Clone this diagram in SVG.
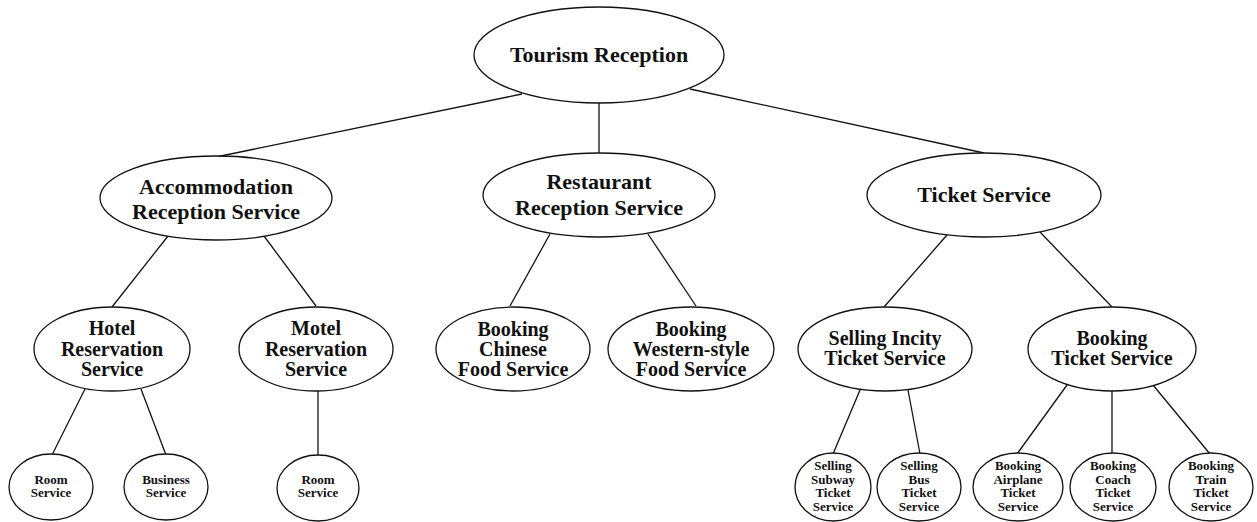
<svg xmlns="http://www.w3.org/2000/svg" width="1257" height="522" viewBox="0 0 1257 522">
<style>
.n ellipse{fill:#fff;stroke:#111;stroke-width:1.3}
.c line{stroke:#111;stroke-width:1.3}
text{font-family:"Liberation Serif","Times New Roman",serif;font-weight:bold;fill:#111;text-anchor:middle}
.l1{font-size:22px}
.l3{font-size:20px}
.l4{font-size:13px}
</style>
<rect width="1257" height="522" fill="#fff"/>
<g class="c" id="connectors">
<line x1="522" y1="94" x2="216" y2="157"/>
<line x1="599" y1="103" x2="599" y2="153"/>
<line x1="690" y1="89" x2="984" y2="153"/>
<line x1="168" y1="236" x2="112" y2="307"/>
<line x1="264" y1="236" x2="316" y2="306"/>
<line x1="550" y1="234" x2="510" y2="306"/>
<line x1="648" y1="234" x2="696" y2="306"/>
<line x1="947" y1="235" x2="884" y2="307"/>
<line x1="1040" y1="232" x2="1112" y2="307"/>
<line x1="860" y1="390" x2="833" y2="454"/>
<line x1="908" y1="390" x2="920" y2="454"/>
<line x1="1067" y1="385" x2="1017" y2="454"/>
<line x1="1112" y1="391" x2="1112" y2="454"/>
<line x1="1153" y1="385" x2="1210" y2="454"/>
<line x1="85" y1="389" x2="52" y2="455"/>
<line x1="141" y1="389" x2="166" y2="455"/>
<line x1="318" y1="391" x2="318" y2="455"/>
</g>
<g class="n" id="tourism"><ellipse cx="599" cy="55" rx="125" ry="48"/><text class="l1" x="599" y="62">Tourism Reception</text></g>
<g class="n" id="accommodation"><ellipse cx="216" cy="198" rx="116" ry="42"/><text class="l1" x="216" y="194">Accommodation</text><text class="l1" x="216" y="219">Reception Service</text></g>
<g class="n" id="restaurant"><ellipse cx="599" cy="195" rx="116" ry="42"/><text class="l1" x="599" y="189">Restaurant</text><text class="l1" x="599" y="215">Reception Service</text></g>
<g class="n" id="ticket"><ellipse cx="984" cy="195" rx="117" ry="42"/><text class="l1" x="984" y="202">Ticket Service</text></g>
<g class="n" id="hotel"><ellipse cx="112" cy="349" rx="78" ry="42"/><text class="l3" x="112" y="335">Hotel</text><text class="l3" x="112" y="356">Reservation</text><text class="l3" x="112" y="376">Service</text></g>
<g class="n" id="motel"><ellipse cx="316" cy="349" rx="77" ry="42"/><text class="l3" x="316" y="335">Motel</text><text class="l3" x="316" y="356">Reservation</text><text class="l3" x="316" y="376">Service</text></g>
<g class="n" id="chinese"><ellipse cx="513" cy="349" rx="77" ry="42"/><text class="l3" x="513" y="336">Booking</text><text class="l3" x="513" y="356">Chinese</text><text class="l3" x="513" y="376">Food Service</text></g>
<g class="n" id="western"><ellipse cx="691" cy="349" rx="83" ry="42"/><text class="l3" x="691" y="336">Booking</text><text class="l3" x="691" y="356">Western-style</text><text class="l3" x="691" y="376">Food Service</text></g>
<g class="n" id="incity"><ellipse cx="885" cy="349" rx="87" ry="42"/><text class="l3" x="885" y="345">Selling Incity</text><text class="l3" x="885" y="365">Ticket Service</text></g>
<g class="n" id="booking"><ellipse cx="1112" cy="349" rx="84" ry="42"/><text class="l3" x="1112" y="345">Booking</text><text class="l3" x="1112" y="365">Ticket Service</text></g>
<g class="n" id="room1"><ellipse cx="51" cy="487" rx="42" ry="33"/><text class="l4" x="51" y="484">Room</text><text class="l4" x="51" y="497">Service</text></g>
<g class="n" id="business"><ellipse cx="166" cy="487" rx="42" ry="33"/><text class="l4" x="166" y="484">Business</text><text class="l4" x="166" y="497">Service</text></g>
<g class="n" id="room2"><ellipse cx="318" cy="488" rx="41" ry="33"/><text class="l4" x="318" y="484">Room</text><text class="l4" x="318" y="497">Service</text></g>
<g class="n" id="subway"><ellipse cx="833" cy="487" rx="38" ry="34"/><text class="l4" x="833" y="470">Selling</text><text class="l4" x="833" y="484">Subway</text><text class="l4" x="833" y="497">Ticket</text><text class="l4" x="833" y="511">Service</text></g>
<g class="n" id="bus"><ellipse cx="919" cy="487" rx="42" ry="34"/><text class="l4" x="919" y="470">Selling</text><text class="l4" x="919" y="484">Bus</text><text class="l4" x="919" y="497">Ticket</text><text class="l4" x="919" y="511">Service</text></g>
<g class="n" id="airplane"><ellipse cx="1018" cy="487" rx="45" ry="34"/><text class="l4" x="1018" y="470">Booking</text><text class="l4" x="1018" y="484">Airplane</text><text class="l4" x="1018" y="497">Ticket</text><text class="l4" x="1018" y="511">Service</text></g>
<g class="n" id="coach"><ellipse cx="1113" cy="487" rx="43" ry="34"/><text class="l4" x="1113" y="470">Booking</text><text class="l4" x="1113" y="484">Coach</text><text class="l4" x="1113" y="497">Ticket</text><text class="l4" x="1113" y="511">Service</text></g>
<g class="n" id="train"><ellipse cx="1211" cy="487" rx="42" ry="34"/><text class="l4" x="1211" y="470">Booking</text><text class="l4" x="1211" y="484">Train</text><text class="l4" x="1211" y="497">Ticket</text><text class="l4" x="1211" y="511">Service</text></g>
</svg>
